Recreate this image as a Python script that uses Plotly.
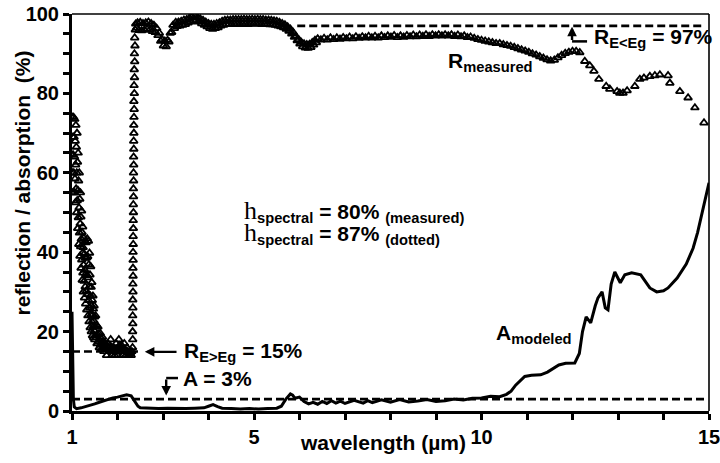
import plotly.graph_objects as go

# Measured reflectance R(λ): (wavelength µm, reflectance %)
r_measured = [
    # short-wavelength (above band gap) region, strong interference fringes
    (1.000, 55), (1.005, 64.5), (1.010, 74), (1.015, 60), (1.020, 69), (1.025, 55),
    (1.030, 64.5), (1.035, 74), (1.040, 60), (1.045, 69), (1.050, 55), (1.055, 64),
    (1.060, 73.5), (1.065, 58.5), (1.070, 68), (1.075, 52.5), (1.080, 62), (1.085, 72),
    (1.090, 56), (1.095, 66.5), (1.100, 50), (1.105, 60), (1.110, 70), (1.115, 53),
    (1.120, 62.7), (1.125, 46), (1.130, 55.6), (1.135, 65), (1.140, 48.7), (1.145, 58),
    (1.150, 42), (1.155, 51.2), (1.160, 60), (1.165, 44.9), (1.170, 53.4), (1.175, 39),
    (1.180, 47.2), (1.185, 55), (1.190, 41.4), (1.195, 48.9), (1.200, 36), (1.205, 43.3),
    (1.210, 50.4), (1.215, 38.1), (1.220, 45.0), (1.225, 33), (1.230, 39.8), (1.235, 46.4),
    (1.240, 34.8), (1.245, 41.2), (1.250, 30), (1.255, 36.8), (1.260, 43.6), (1.265, 32.7),
    (1.270, 39.6), (1.275, 28.5), (1.280, 35.5), (1.285, 42.6), (1.290, 31.3), (1.295, 38.5),
    (1.300, 27), (1.305, 34.5), (1.310, 42.4), (1.315, 30.2), (1.320, 38.6), (1.325, 25.5),
    (1.330, 34.2), (1.335, 43.4), (1.340, 29.4), (1.345, 38.9), (1.350, 24), (1.355, 33.6),
    (1.360, 42.8), (1.365, 27.9), (1.370, 36.9), (1.375, 22.5), (1.380, 31.3), (1.385, 39.8),
    (1.390, 26), (1.395, 34.3), (1.400, 21), (1.405, 29), (1.410, 36.4), (1.415, 24.2),
    (1.420, 31.2), (1.425, 20), (1.430, 26.5), (1.435, 32.4), (1.440, 22.5), (1.445, 27.9),
    (1.450, 19), (1.455, 24.2), (1.460, 29), (1.465, 21.2), (1.470, 25.7), (1.475, 18.5),
    (1.480, 22.7), (1.485, 26.5), (1.490, 20.2), (1.495, 23.7), (1.500, 18),
    (1.51, 21.2), (1.52, 24), (1.53, 19), (1.54, 21.6), (1.55, 17), (1.56, 19.2),
    (1.57, 21.2), (1.58, 17.5), (1.59, 19.4), (1.60, 16), (1.61, 17.9), (1.62, 19.6),
    (1.63, 16.6), (1.64, 18.3), (1.65, 15.5), (1.66, 17.1), (1.67, 18.6), (1.68, 16),
    (1.69, 17.4), (1.70, 15),
    (1.715, 16), (1.73, 17), (1.745, 15.5), (1.76, 14), (1.775, 15.5),
    (1.79, 17), (1.805, 16), (1.82, 15), (1.835, 16.5), (1.85, 18), (1.865, 16), (1.88, 14),
    (1.895, 15), (1.91, 16), (1.925, 15), (1.94, 14), (1.955, 15.5), (1.97, 17),
    (1.985, 15.5), (2.00, 14), (2.015, 16), (2.03, 18), (2.045, 16.5), (2.06, 15),
    (2.075, 15.5), (2.09, 16.5), (2.105, 15), (2.12, 14), (2.135, 15.5), (2.15, 17),
    (2.165, 15.5), (2.18, 14), (2.195, 15), (2.21, 16), (2.225, 15), (2.24, 14),
    (2.255, 14.5), (2.27, 15), (2.285, 14.5), (2.30, 14), (2.315, 15),
    # absorption edge
    (2.330, 16), (2.334, 18), (2.332, 20), (2.336, 22), (2.334, 24), (2.338, 26),
    (2.336, 28), (2.340, 30), (2.338, 32), (2.342, 34), (2.340, 36), (2.344, 38),
    (2.342, 40), (2.346, 42), (2.344, 44), (2.348, 46), (2.346, 48), (2.350, 50),
    (2.348, 52), (2.352, 54), (2.350, 56), (2.354, 58), (2.352, 60), (2.356, 62),
    (2.354, 64), (2.358, 66), (2.356, 68), (2.360, 70), (2.358, 72), (2.362, 74),
    (2.366, 76), (2.360, 78), (2.370, 80), (2.364, 82), (2.374, 84), (2.368, 86),
    (2.378, 88), (2.372, 90), (2.384, 92), (2.378, 94), (2.392, 96), (2.40, 97.5),
    (2.42, 96.5),
    # below band gap plateau
    (2.44, 97.8), (2.47, 95.9), (2.50, 97.9), (2.53, 95.8), (2.56, 97.6), (2.59, 96.0),
    (2.62, 97.8), (2.65, 96.2), (2.68, 98.0), (2.71, 96.0), (2.74, 97.6), (2.77, 95.6),
    (2.80, 97.2), (2.83, 95.4), (2.86, 96.4), (2.89, 94.6), (2.92, 95.2), (2.95, 93.2),
    (2.98, 93.6), (3.01, 92.0), (3.04, 93.2), (3.07, 91.8), (3.10, 93.4), (3.13, 93.0),
    (3.16, 95.2), (3.19, 95.4), (3.22, 97.2), (3.25, 96.4), (3.28, 97.9), (3.31, 96.9),
    (3.34, 98.0), (3.37, 97.0), (3.40, 98.2), (3.43, 97.2), (3.46, 98.5), (3.49, 97.4),
    (3.52, 98.6), (3.55, 97.8), (3.58, 99.0), (3.61, 98.0), (3.64, 99.4), (3.67, 98.4),
    (3.70, 99.5), (3.73, 98.4), (3.76, 99.2), (3.79, 98.0), (3.82, 98.8), (3.85, 97.6),
    (3.88, 98.4), (3.91, 97.2), (3.94, 98.0), (3.97, 96.8), (4.00, 97.6), (4.03, 96.4),
    (4.06, 97.4), (4.09, 96.2), (4.12, 97.4), (4.15, 96.4), (4.18, 97.6), (4.21, 96.6),
    (4.24, 97.8), (4.27, 97.0), (4.30, 98.2), (4.33, 97.2), (4.36, 98.4), (4.39, 97.4),
    (4.42, 98.5), (4.45, 97.4), (4.48, 98.5), (4.51, 97.4), (4.54, 98.6), (4.57, 97.5),
    (4.60, 98.6), (4.63, 97.5), (4.66, 98.6), (4.69, 97.4), (4.72, 98.6), (4.75, 97.5),
    (4.78, 98.7), (4.81, 97.5), (4.84, 98.6), (4.87, 97.4), (4.90, 98.6), (4.93, 97.5),
    (4.96, 98.7), (4.99, 97.5), (5.02, 98.6), (5.05, 97.5), (5.08, 98.7), (5.11, 97.5),
    (5.14, 98.6), (5.17, 97.4), (5.20, 98.6), (5.23, 97.5), (5.26, 98.5), (5.29, 97.4),
    (5.32, 98.5), (5.35, 97.3), (5.38, 98.4), (5.41, 97.3), (5.44, 98.3), (5.47, 97.2),
    (5.50, 98.2), (5.53, 97.0), (5.56, 97.9), (5.59, 96.8), (5.62, 97.6), (5.65, 96.6),
    (5.68, 97.3), (5.71, 96.2), (5.74, 96.8), (5.77, 95.7), (5.80, 96.2), (5.83, 95.0),
    (5.86, 95.4), (5.89, 94.2), (5.92, 94.4), (5.95, 93.3), (5.98, 93.6), (6.01, 92.5),
    (6.04, 92.9), (6.07, 91.8), (6.10, 92.5), (6.13, 91.5), (6.16, 92.3), (6.19, 91.4),
    (6.22, 92.4), (6.25, 91.6), (6.28, 92.8), (6.31, 92.2), (6.34, 93.4), (6.37, 92.8),
    (6.40, 93.8),
    (6.47, 93.5), (6.54, 93.9), (6.61, 93.5), (6.68, 94.0), (6.75, 93.6), (6.82, 94.0),
    (6.89, 93.7), (6.96, 94.1), (7.03, 93.8), (7.10, 94.2), (7.17, 93.8), (7.24, 94.3),
    (7.31, 93.9), (7.38, 94.3), (7.45, 94.0), (7.52, 94.4), (7.59, 94.0), (7.66, 94.4),
    (7.73, 94.0), (7.80, 94.5), (7.87, 94.1), (7.94, 94.5), (8.01, 94.2), (8.08, 94.6),
    (8.15, 94.1), (8.22, 94.5), (8.29, 94.2), (8.36, 94.6), (8.43, 94.3), (8.50, 94.7),
    (8.57, 94.3), (8.64, 94.7), (8.71, 94.4), (8.78, 94.8), (8.85, 94.4), (8.92, 94.8),
    (8.99, 94.5), (9.06, 94.8), (9.13, 94.5), (9.20, 94.8), (9.27, 94.5), (9.34, 94.8),
    (9.41, 94.4), (9.48, 94.7), (9.55, 94.3), (9.62, 94.5), (9.69, 94.1), (9.76, 94.2),
    (9.84, 93.9), (9.92, 93.6), (10.00, 93.4), (10.08, 93.2), (10.16, 93.0),
    (10.24, 92.8), (10.32, 92.6), (10.40, 92.6), (10.48, 92.3), (10.56, 92.1),
    (10.64, 91.9), (10.72, 91.6), (10.80, 91.3), (10.88, 91.0), (10.96, 90.7),
    (11.04, 90.4), (11.12, 90.0), (11.20, 89.7), (11.28, 89.3), (11.36, 88.9),
    (11.44, 88.5), (11.52, 88.2), (11.60, 88.4), (11.68, 89.0), (11.76, 89.6),
    (11.84, 90.1), (11.92, 90.4), (12.00, 90.6), (12.08, 90.6), (12.16, 90.3),
    (12.27, 88.1), (12.38, 87.0), (12.47, 85.6), (12.58, 83.6), (12.74, 81.8),
    (12.82, 81.1), (12.98, 80.5), (13.04, 80.1), (13.11, 80.1), (13.20, 80.7),
    (13.37, 81.8), (13.48, 83.6), (13.57, 83.9), (13.70, 84.3), (13.81, 84.5),
    (13.92, 84.7), (14.10, 84.5), (14.14, 82.6), (14.36, 80.5), (14.54, 78.9),
    (14.69, 76.4), (14.89, 72.6),
]

# Modeled absorption A(λ): (wavelength µm, absorption %)
a_modeled = [
    (1.00, 25), (1.01, 18), (1.02, 8), (1.03, 3), (1.05, 1), (1.10, 0.6), (1.2, 0.8),
    (1.3, 1.1), (1.4, 1.4), (1.5, 1.8), (1.6, 2.2), (1.7, 2.6), (1.8, 3.0), (1.9, 3.3),
    (2.0, 3.5), (2.1, 3.8), (2.2, 4.1), (2.3, 3.8), (2.35, 3.0), (2.4, 2.0), (2.45, 1.2),
    (2.5, 0.8), (2.7, 0.7), (2.9, 0.6), (3.1, 0.7), (3.3, 0.6), (3.5, 0.6), (3.7, 0.7),
    (3.9, 0.8), (4.0, 1.2), (4.1, 1.6), (4.2, 1.1), (4.3, 0.7), (4.5, 0.6), (4.7, 0.5),
    (4.9, 0.6), (5.1, 0.5), (5.3, 0.6), (5.5, 0.7), (5.6, 1.2), (5.7, 3.0), (5.8, 4.3),
    (5.85, 4.0), (5.9, 3.2), (6.0, 3.5), (6.1, 2.4), (6.2, 1.8), (6.3, 2.2), (6.4, 1.7),
    (6.5, 2.4), (6.6, 1.9), (6.7, 2.6), (6.8, 2.0), (6.9, 2.5), (7.0, 1.9), (7.2, 2.7),
    (7.4, 2.0), (7.5, 2.6), (7.6, 2.1), (7.8, 2.8), (8.0, 2.2), (8.2, 2.9), (8.4, 2.3),
    (8.6, 2.5), (8.8, 2.9), (9.0, 2.4), (9.2, 2.6), (9.4, 3.0), (9.6, 2.8), (9.8, 3.2),
    (10.0, 3.3), (10.2, 3.7), (10.4, 3.6), (10.55, 4.2), (10.65, 5.0), (10.75, 6.5),
    (10.85, 7.5), (10.95, 8.7), (11.1, 9.0), (11.3, 9.1), (11.45, 9.8), (11.55, 10.6),
    (11.7, 11.6), (11.85, 12.0), (12.05, 12.1), (12.15, 14.5), (12.22, 20), (12.3, 23.7),
    (12.4, 22.2), (12.5, 26.5), (12.56, 28.5), (12.65, 30), (12.72, 26), (12.78, 25.5),
    (12.85, 32), (12.93, 35), (13.0, 33.5), (13.05, 32.3), (13.15, 34.3), (13.3, 34.8),
    (13.5, 34.3), (13.6, 32.5), (13.7, 31), (13.85, 30), (14.0, 30.3), (14.1, 31),
    (14.3, 33.5), (14.5, 37), (14.65, 41), (14.75, 45), (14.85, 50), (14.95, 55),
    (15.0, 57.5),
]

# Reference levels: value %, wavelength span start / end
level_values = [15, 97, 3]
level_start = [1.0, 5.95, 1.0]
level_end = [2.45, 14.85, 14.9]

x_tick_vals = [1, 2, 3, 4, 5, 6, 7, 8, 9, 10, 11, 12, 13, 14, 15]
x_tick_text = ["1", "", "", "", "5", "", "", "", "", "10", "", "", "", "", "15"]
y_tick_vals = [0, 5, 10, 15, 20, 25, 30, 35, 40, 45, 50, 55, 60, 65, 70, 75, 80, 85,
               90, 95, 100]
y_tick_text = ["0", "", "", "", "20", "", "", "", "40", "", "", "", "60", "", "", "",
               "80", "", "", "", "100"]

wl_r, refl = zip(*r_measured)
wl_a, absorp = zip(*a_modeled)

FONT = "Liberation Sans"
BOLD = dict(family=FONT, color="black", weight="bold")

fig = go.Figure()

for val, x0, x1 in zip(level_values, level_start, level_end):
    fig.add_trace(go.Scatter(
        x=[x0, x1], y=[val, val], mode="lines",
        line=dict(color="black", width=2.6, dash="8px,4px"),
        hoverinfo="skip", showlegend=False))

fig.add_trace(go.Scatter(
    x=wl_a, y=absorp, mode="lines",
    line=dict(color="black", width=3),
    showlegend=False))

fig.add_trace(go.Scatter(
    x=wl_r, y=refl, mode="markers",
    marker=dict(symbol="triangle-up-open", size=7, color="black",
                line=dict(color="black", width=1.8)),
    showlegend=False))

annotations = []

def label(x, y, text, size=21):
    annotations.append(dict(
        x=x, y=y, xref="x", yref="y", text=text, showarrow=False,
        xanchor="left", yanchor="middle",
        font=dict(size=size, **BOLD)))

def arrow(x_head, y_head, x_tail, y_tail):
    annotations.append(dict(
        x=x_head, y=y_head, ax=x_tail, ay=y_tail, xref="x", yref="y",
        axref="x", ayref="y", text="", showarrow=True,
        arrowhead=2, arrowsize=0.8, arrowwidth=2.4, arrowcolor="black",
        standoff=0))

label(3.42, 14.8, "R<sub>E&gt;Eg</sub> = 15%")
arrow(2.60, 14.9, 3.33, 14.9)

label(3.40, 8.1, "A = 3%")
arrow(3.07, 3.9, 3.07, 8.3)

label(12.43, 94.0, "R<sub>E&lt;Eg</sub> = 97%")
arrow(11.99, 96.8, 11.99, 93.1)

label(9.22, 88.0, "R<sub>measured</sub>")
label(10.27, 19.4, "A<sub>modeled</sub>")

h = '<span style="font-family:Liberation Serif;font-weight:normal;font-size:26px">h</span>'
label(4.74, 50.3, h + "<sub>spectral</sub> = 80% <sub>(measured)</sub>")
label(4.74, 44.9, h + "<sub>spectral</sub> = 87% <sub>(dotted)</sub>")

# axis titles
annotations.append(dict(
    x=0.488, y=-0.08, xref="paper", yref="paper", text="wavelength (µm)",
    showarrow=False, xanchor="center", yanchor="middle",
    font=dict(size=21, **BOLD)))
annotations.append(dict(
    x=-0.078, y=0.574, xref="paper", yref="paper",
    text="reflection / absorption  (%)", textangle=-90,
    showarrow=False, xanchor="center", yanchor="middle",
    font=dict(size=21, **BOLD)))

shapes = [
    # leader lines of the bracket arrows
    dict(type="line", xref="x", yref="y", x0=3.07, x1=3.33, y0=8.3, y1=8.3,
         line=dict(color="black", width=2.5)),
    dict(type="line", xref="x", yref="y", x0=11.99, x1=12.32, y0=93.1, y1=93.1,
         line=dict(color="black", width=2.5)),
    # thin frame on top and right
    dict(type="line", xref="paper", yref="paper", x0=0, x1=1, y0=1, y1=1,
         line=dict(color="black", width=1.6)),
    dict(type="line", xref="paper", yref="paper", x0=1, x1=1, y0=0, y1=1,
         line=dict(color="black", width=1.6)),
]

fig.update_layout(
    width=720, height=463,
    margin=dict(l=72, r=11, t=14, b=52),
    paper_bgcolor="white", plot_bgcolor="white",
    annotations=annotations, shapes=shapes,
    showlegend=False,
)
fig.update_xaxes(
    range=[1, 15], tickmode="array", tickvals=x_tick_vals, ticktext=x_tick_text,
    ticks="outside", ticklen=6, tickwidth=3, tickcolor="black",
    showline=True, linewidth=3, linecolor="black",
    showgrid=False, zeroline=False, ticklabeloverflow="allow", automargin=False,
    tickfont=dict(size=20, **BOLD),
)
fig.update_yaxes(
    range=[0, 100], tickmode="array", tickvals=y_tick_vals, ticktext=y_tick_text,
    ticks="outside", ticklen=6, tickwidth=3, tickcolor="black",
    showline=True, linewidth=3, linecolor="black",
    showgrid=False, zeroline=False, automargin=False,
    tickfont=dict(size=20, **BOLD),
)

fig.write_html("out.html")
